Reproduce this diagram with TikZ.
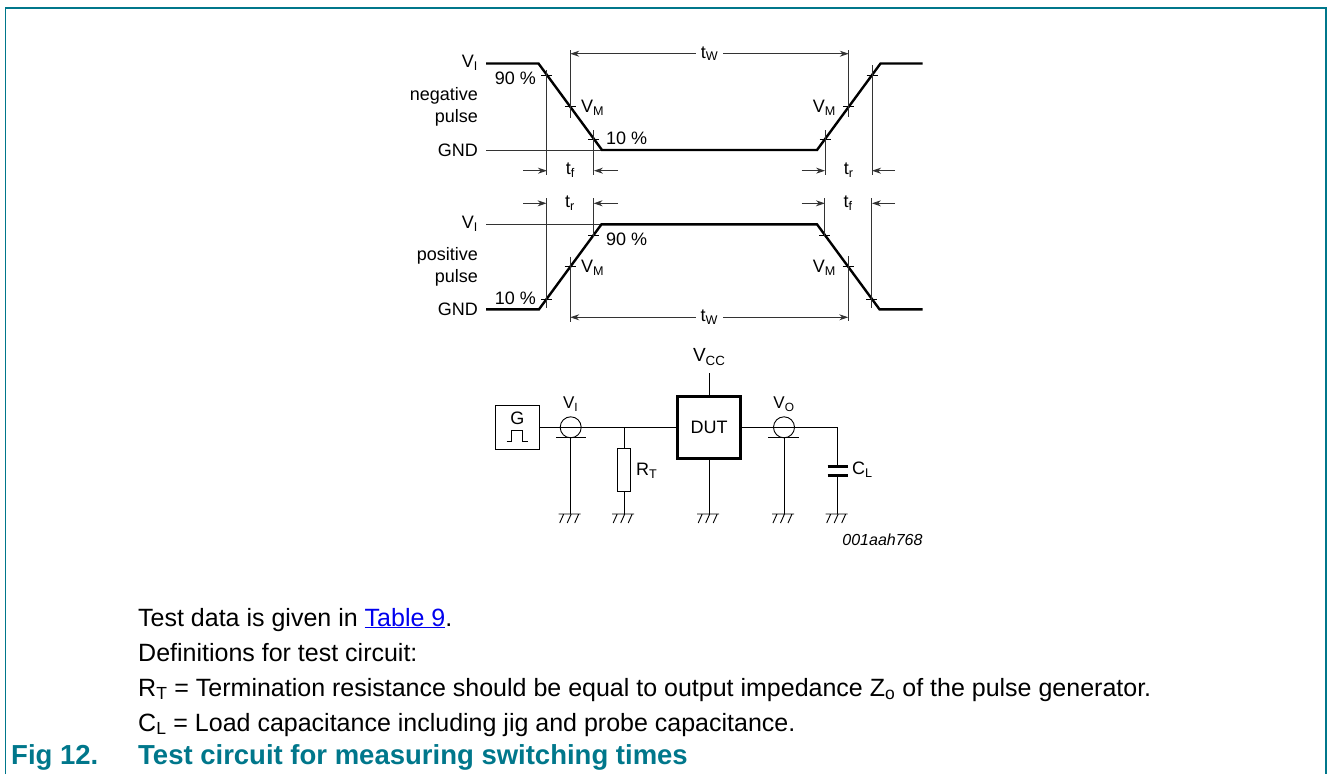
\documentclass[tikz,border=0pt]{standalone}
\usepackage{fontspec}
\setmainfont{Liberation Sans}
\usetikzlibrary{arrows.meta}
\definecolor{nxpteal}{RGB}{0,119,139}
\definecolor{linkblue}{RGB}{0,0,238}
\begin{document}
\begin{tikzpicture}[x=1pt,y=-1pt,
  thinl/.style={line width=0.9pt, black!80},
  pulse/.style={line width=2.4pt, black, line join=miter},
  tickl/.style={line width=0.9pt, black},
  dimr/.style={line width=0.9pt, black!80, -{Stealth[length=9pt,width=6pt]}},
  dimb/.style={line width=0.9pt, black!80, {Stealth[length=9pt,width=6pt]}-{Stealth[length=9pt,width=6pt]}},
  lab/.style={font=\fontsize{18}{20}\selectfont, inner sep=0pt},
  clab/.style={font=\fontsize{18}{20}\selectfont, inner sep=0pt},
  wire/.style={line width=0.9pt, black},
  body/.style={font=\fontsize{25}{29}\selectfont, inner sep=0pt, anchor=base west},
  capt/.style={font=\fontsize{27.5}{31}\selectfont\bfseries, text=nxpteal, inner sep=0pt, anchor=base west},
  gnd/.pic={\draw[wire] (-12,0) -- (10,0) (-7,0) -- (-11,9) (0.5,0) -- (-3.5,9) (8,0) -- (4,9);},
]
\useasboundingbox (0,0) rectangle (1328,774);
\draw[nxpteal, line width=1.3pt] (5.5,774) -- (5.5,8) -- (1326,8) -- (1326,774);

% ---------- negative pulse ----------
\draw[thinl] (486,150) -- (602,150);
\draw[pulse] (486,63.5) -- (538.5,63.5) -- (602,150) -- (817,150) -- (880.5,63.5) -- (922.7,63.5);
\foreach \x/\y in {546.94/75, 570.25/106.75, 593.92/139, 825.08/139, 848.75/106.75, 872.06/75}
  \draw[tickl] (\x-5.5,\y) -- (\x+5.5,\y);
\draw[thinl] (546.94,70) -- (546.94,175);
\draw[thinl] (570.25,50) -- (570.25,117.7);
\draw[thinl] (593.92,130) -- (593.92,175);
\draw[thinl] (825.08,130) -- (825.08,175);
\draw[thinl] (848.75,50) -- (848.75,117);
\draw[thinl] (872.06,65) -- (872.06,175);
\coordinate (nf1) at (523,170.7);
\coordinate (nf2) at (618,170.7);
\coordinate (nr1) at (801.7,170.7);
\coordinate (nr2) at (895,170.7);
\draw[dimr] (nf1) -- (546.94,170.7);
\draw[dimr] (nf2) -- (593.92,170.7);
\draw[dimr] (nr1) -- (825.08,170.7);
\draw[dimr] (nr2) -- (872.06,170.7);
\node[lab] (ntf) at (570.4,170) {t\textsubscript{f}};
\node[lab] (ntr) at (848.6,170) {t\textsubscript{r}};
\coordinate (nw1) at (570.25,53.7);
\coordinate (nw2) at (848.75,53.7);
\draw[dimb] (nw1) -- (nw2);
\node[lab, fill=white, inner xsep=5pt, inner ysep=1pt] (ntw) at (709.5,53.7) {t\textsubscript{W}};
\node[lab, anchor=east] (nvi) at (478,63) {V\textsubscript{I}};
\node[lab, anchor=east] (n90) at (536,78) {90 \%};
\node[lab, anchor=east] (nneg) at (478,96) {negative};
\node[lab, anchor=east] (npul) at (478,117.5) {pulse};
\node[lab, anchor=east] (ngnd) at (478,150) {GND};
\node[lab, anchor=west] (nvm1) at (581,108) {V\textsubscript{M}};
\node[lab, anchor=west] (n10) at (606,138) {10 \%};
\node[lab, anchor=east] (nvm2) at (836,108) {V\textsubscript{M}};

% ---------- positive pulse ----------
\draw[thinl] (486,224.3) -- (601.5,224.3);
\draw[pulse] (486,309.3) -- (539,309.3) -- (601.5,224.3) -- (817,224.3) -- (879.5,309.3) -- (922.7,309.3);
\foreach \x/\y in {546.57/299, 570.24/266.8, 593.6/235, 824.86/235, 848.24/266.8, 871.9/299}
  \draw[tickl] (\x-5.5,\y) -- (\x+5.5,\y);
\draw[thinl] (546.57,198) -- (546.57,308);
\draw[thinl] (570.24,256.7) -- (570.24,321.7);
\draw[thinl] (593.6,198) -- (593.6,236.7);
\draw[thinl] (824.86,198) -- (824.86,236);
\draw[thinl] (848.24,256) -- (848.24,321);
\draw[thinl] (871.9,198) -- (871.9,308);
\coordinate (pr1) at (523,203.3);
\coordinate (pr2) at (618,203.3);
\coordinate (pf1) at (801.7,203.3);
\coordinate (pf2) at (895,203.3);
\draw[dimr] (pr1) -- (546.57,203.3);
\draw[dimr] (pr2) -- (593.6,203.3);
\draw[dimr] (pf1) -- (824.86,203.3);
\draw[dimr] (pf2) -- (871.9,203.3);
\node[lab] (ptr) at (570,203) {t\textsubscript{r}};
\node[lab] (ptf) at (848,203) {t\textsubscript{f}};
\coordinate (pw1) at (570.24,317.3);
\coordinate (pw2) at (848.24,317.3);
\draw[dimb] (pw1) -- (pw2);
\node[lab, fill=white, inner xsep=5pt, inner ysep=1pt] (ptw) at (709.2,317.3) {t\textsubscript{W}};
\node[lab, anchor=east] (pvi) at (478,224) {V\textsubscript{I}};
\node[lab, anchor=west] (p90) at (606,239) {90 \%};
\node[lab, anchor=east] (ppos) at (478,256) {positive};
\node[lab, anchor=east] (ppul) at (478,278) {pulse};
\node[lab, anchor=east] (p10) at (536,298) {10 \%};
\node[lab, anchor=east] (pgnd) at (478,309) {GND};
\node[lab, anchor=west] (pvm1) at (581,268) {V\textsubscript{M}};
\node[lab, anchor=east] (pvm2) at (836,268) {V\textsubscript{M}};

% ---------- test circuit ----------
\node[draw, wire, minimum width=43.3pt, minimum height=43.3pt, inner sep=0pt] (gen) at (517.3,427.3) {};
\node[clab] (gtxt) at (517.3,418) {G};
\draw[wire] (506.7,441.7) -- (511.7,441.7) -- (511.7,430) -- (522.7,430) -- (522.7,441.7) -- (527.7,441.7);
\node[draw, line width=2.5pt, minimum width=63pt, minimum height=62pt, inner sep=0pt, font=\fontsize{18}{20}\selectfont] (dut) at (709.2,427.3) {DUT};
\coordinate (jrt) at (624.2,427.3);
\draw[wire] (gen.east) -- (dut.west);
\node[draw, wire, circle, minimum size=21pt, inner sep=0pt] (pvi) at (570.7,427.3) {};
\draw[wire] (556,437.7) -- (586,437.7);
\coordinate (gvi) at (570.7,514);
\draw[wire] (570.7,437.7) -- (gvi);
\node[draw, wire, minimum width=13pt, minimum height=43.4pt, inner sep=0pt] (rt) at (624.2,470) {};
\coordinate (grt) at (624.2,514);
\draw[wire] (jrt) -- (rt.north);
\draw[wire] (rt.south) -- (grt);
\coordinate (vcc) at (709.2,373);
\draw[wire] (dut.north) -- (vcc);
\coordinate (gdut) at (709.2,514);
\draw[wire] (dut.south) -- (gdut);
\coordinate (jcl) at (837.7,427.3);
\coordinate (cltop) at (837.7,466);
\coordinate (clbot) at (837.7,475);
\draw[wire] (dut.east) -- (jcl) -- (cltop);
\node[draw, wire, circle, minimum size=21pt, inner sep=0pt] (pvo) at (784,427.3) {};
\draw[wire] (768.3,437.7) -- (799.3,437.7);
\coordinate (gvo) at (784,514);
\draw[wire] (784,437.7) -- (gvo);
\draw[line width=3pt] (827.7,466) -- (848.3,466) (827.7,475) -- (848.3,475);
\coordinate (gcl) at (837.7,514);
\draw[wire] (clbot) -- (gcl);
\foreach \g in {gvi,grt,gdut,gvo,gcl} \pic at (\g) {gnd};
\node[clab, font=\fontsize{19}{21}\selectfont] (lvcc) at (709.2,357) {V\textsubscript{CC}};
\node[clab, font=\fontsize{17}{19}\selectfont] (lvi) at (570.7,404) {V\textsubscript{I}};
\node[clab, font=\fontsize{17}{19}\selectfont] (lvo) at (784,404) {V\textsubscript{O}};
\node[clab, anchor=west] (lrt) at (636,471) {R\textsubscript{T}};
\node[clab, anchor=west] (lcl) at (852,470) {C\textsubscript{L}};
\node[inner sep=0pt, anchor=east, font=\fontsize{16}{18}\selectfont\itshape] (code) at (922.7,540) {001aah768};

% ---------- text ----------
\node[body] (t1) at (138,626) {Test data is given in \textcolor{linkblue}{\underline{Table 9}}.};
\node[body] (t2) at (138,661) {Definitions for test circuit:};
\node[body] (t3) at (138,696) {R\textsubscript{T} = Termination resistance should be equal to output impedance Z\textsubscript{o} of the pulse generator.};
\node[body] (t4) at (138,731) {C\textsubscript{L} = Load capacitance including jig and probe capacitance.};
\node[capt] (c1) at (11,764) {Fig 12.};
\node[capt] (c2) at (138,764) {Test circuit for measuring switching times};
\end{tikzpicture}
\end{document}
